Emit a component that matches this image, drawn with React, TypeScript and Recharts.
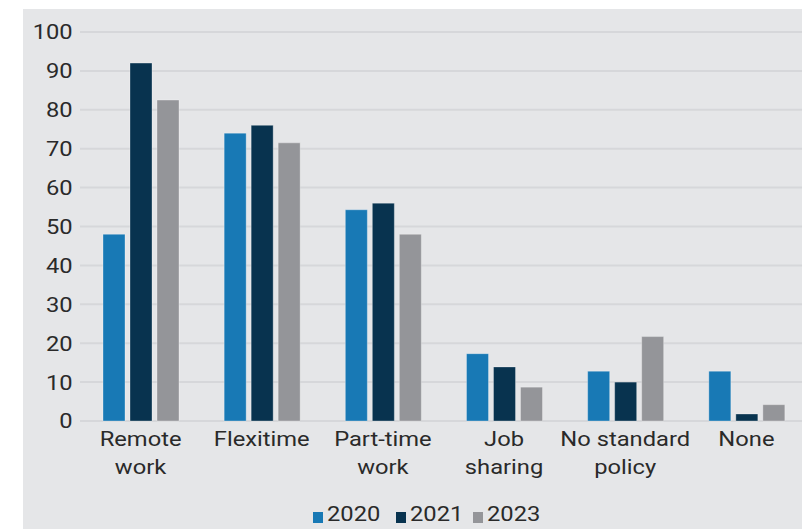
import { BarChart, Bar, XAxis, YAxis, CartesianGrid } from "recharts";

const categories = [
  "Remote\nwork",
  "Flexitime",
  "Part-time\nwork",
  "Job\nsharing",
  "No standard\npolicy",
  "None",
];
const values2020 = [48, 74, 54.3, 17.3, 12.8, 12.8];
const values2021 = [92, 76, 56, 13.9, 10, 1.8];
const values2023 = [82.5, 71.5, 48, 8.7, 21.7, 4.2];
const yTicks = [0, 10, 20, 30, 40, 50, 60, 70, 80, 90, 100];

const series = [
  { key: "2020", color: "#1879b5" },
  { key: "2021", color: "#08334f" },
  { key: "2023", color: "#949599" },
];

const data = categories.map((name, i) => ({
  name,
  "2020": values2020[i],
  "2021": values2021[i],
  "2023": values2023[i],
}));

// the source text looks horizontally stretched, so squeeze x and scale back
const SX = 1.13;
const FONT = "Roboto, sans-serif";
const TEXT = "#2a2a2a";
// legend square left edges, relative to the grey panel
const legendX = [289.7, 373, 450.3];

function XTick(props: any) {
  const { x, y, payload } = props;
  const lines = String(payload.value).split("\n");
  return (
    <g>
      {lines.map((line, i) => (
        <text
          key={i}
          x={x / SX}
          y={y + 24.7 + i * 28}
          transform={`scale(${SX},1)`}
          textAnchor="middle"
          fontSize={21}
          fontFamily={FONT}
          fill={TEXT}
        >
          {line}
        </text>
      ))}
    </g>
  );
}

function YTick(props: any) {
  const { x, y, payload } = props;
  return (
    <text
      x={(x - 7.3) / SX}
      y={y + 7.5}
      transform={`scale(${SX},1)`}
      textAnchor="end"
      fontSize={21}
      fontFamily={FONT}
      fill={TEXT}
    >
      {payload.value}
    </text>
  );
}

export default function App() {
  return (
    <div
      style={{
        position: "absolute",
        left: 0,
        top: 0,
        width: 802,
        height: 529,
        background: "#ffffff",
        overflow: "hidden",
      }}
    >
      <div
        style={{
          position: "absolute",
          left: 23,
          top: 9,
          width: 779,
          height: 520,
          background: "#e5e6e8",
          overflow: "hidden",
        }}
      >
        <BarChart
          width={800}
          height={520}
          data={data}
          margin={{ top: 23, right: 16, bottom: 40, left: 0 }}
          barSize={22}
          barGap={5}
        >
          <CartesianGrid vertical={false} stroke="#d6d7da" strokeWidth={2} />
          <XAxis
            dataKey="name"
            axisLine={false}
            tickLine={false}
            tickSize={0}
            tickMargin={0}
            height={68}
            interval={0}
            tick={(p: any) => <XTick {...p} />}
          />
          <YAxis
            domain={[0, 100]}
            ticks={yTicks}
            width={57}
            axisLine={false}
            tickLine={false}
            tickSize={0}
            tickMargin={0}
            tick={(p: any) => <YTick {...p} />}
          />
          {series.map((s) => (
            <Bar
              key={s.key}
              dataKey={s.key}
              fill={s.color}
              stroke="rgba(255,255,255,0.3)"
              strokeWidth={1}
              isAnimationActive={false}
            />
          ))}
        </BarChart>
        {series.map((s, i) => (
          <div
            key={s.key}
            style={{
              position: "absolute",
              left: legendX[i],
              top: 492,
              display: "flex",
              alignItems: "center",
              fontFamily: FONT,
              fontSize: 21,
              color: TEXT,
              lineHeight: "26px",
              whiteSpace: "nowrap",
            }}
          >
            <span
              style={{
                display: "inline-block",
                width: 10,
                height: 11,
                background: s.color,
                marginRight: 4,
                marginTop: 6,
              }}
            />
            <span
              style={{
                display: "inline-block",
                transform: `scaleX(${SX})`,
                transformOrigin: "left center",
              }}
            >
              {s.key}
            </span>
          </div>
        ))}
      </div>
    </div>
  );
}
